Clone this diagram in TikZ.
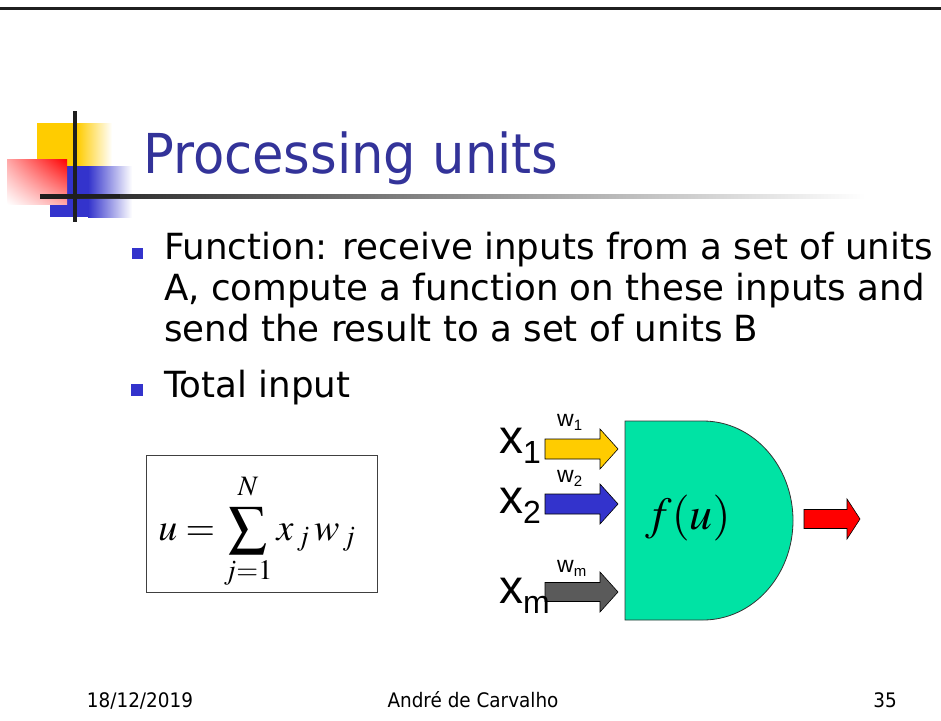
\documentclass[tikz,border=0pt]{standalone}
\usepackage{mathptmx}
\usepackage[no-math]{fontspec}
\usetikzlibrary{shadings}
\newfontfamily\tahtitle{DejaVu Sans}[FakeStretch=0.93]
\newfontfamily\tahbody{DejaVu Sans}[FakeStretch=0.99]
\newfontfamily\tahfoot{DejaVu Sans}[FakeStretch=0.92]
\newfontfamily\ari{Liberation Sans}
\definecolor{titleblue}{HTML}{333399}
\definecolor{bulletblue}{HTML}{3333CC}
\definecolor{logoyellow}{HTML}{FFCC00}
\definecolor{logoblue}{HTML}{3333CC}
\definecolor{neurongreen}{HTML}{00E3A4}
\definecolor{arrowgray}{HTML}{5A5A5A}
\tikzset{
  bodytext/.style={anchor=base west, inner sep=0pt, font=\tahbody\fontsize{36}{40}\selectfont},
  foot/.style={anchor=base, inner sep=0pt, font=\tahfoot\fontsize{20}{22}\selectfont},
  bulletsq/.style={fill=bulletblue, draw=none},
  blockarrow/.style={draw=black, line width=0.6pt, line join=miter},
  inlabel/.style={anchor=base west, inner sep=0pt, font=\ari\fontsize{48}{50}\selectfont},
  wlabel/.style={anchor=base west, inner sep=0pt, font=\ari\fontsize{23}{25}\selectfont},
}
\newcommand{\blockarr}[7]{% x0 x1 x2 yc halfshaft halfhead color
  \fill[#7] (#1,#4-#5) -- (#2,#4-#5) -- (#2,#4-#6) -- (#3,#4) -- (#2,#4+#6) -- (#2,#4+#5) -- (#1,#4+#5) -- cycle;
  \draw[blockarrow] (#1,#4-#5) -- (#2,#4-#5) -- (#2,#4-#6) -- (#3,#4) -- (#2,#4+#6) -- (#2,#4+#5) -- (#1,#4+#5) -- cycle;}
\begin{document}
\begin{tikzpicture}[x=1pt,y=-1pt]
\useasboundingbox (0,0) rectangle (941,720);
\fill[white] (0,0) rectangle (941,720);
% top rule
\fill[black!88] (0,7) rectangle (941,10);
% logo
\fill[logoyellow] (37,123) rectangle (77,167);
\shade[left color=logoyellow, right color=white] (77,123) rectangle (112,167);
\fill[logoblue] (50,166) rectangle (88,217);
\shade[left color=logoblue, right color=white] (88,166) rectangle (132,217);
\shade[upper left=red!35, upper right=red, lower left=white, lower right=red!35] (7,159) rectangle (67,204);
\shade[left color=black!90, right color=white] (40,194) rectangle (865,198);
\fill[black!88] (40,194) rectangle (120,198);
\fill[black!88] (73,111) rectangle (77,222);
% title
\node[anchor=base west, inner sep=0pt, text=titleblue, font=\tahtitle\fontsize{55}{60}\selectfont] (title) at (143,173) {Processing units};
% bullets
\fill[bulletsq] (132,248) rectangle (143,259);
\node[bodytext] (l1) at (164,259) {Function: receive inputs from a set of units};
\node[bodytext] (l2) at (164,300) {A, compute a function on these inputs and};
\node[bodytext] (l3) at (164,341) {send the result to a set of units B};
\fill[bulletsq] (131,384) rectangle (143,396);
\node[bodytext] (l4) at (164,397) {Total input};
% formula
\draw[black!75, line width=0.8pt] (146,455) rectangle (377,592);
\node[anchor=base, inner sep=0pt] (eq) at (257,540) {\fontsize{38}{44}\selectfont$\displaystyle u=\sum_{j=1}^{\raisebox{4pt}{$\scriptstyle N$}} x_{\,j}\, w_{\,j}$};
% neuron
\filldraw[fill=neurongreen, draw=black!80, line width=0.8pt] (625,421) -- (703,421) arc[start angle=-90, end angle=90, x radius=90, y radius=99.5] -- (625,620) -- cycle;
\node[inner sep=0pt] (fu) at (688,518) {\fontsize{46}{50}\selectfont$f(u)$};
% arrows
\blockarr{545}{600}{618}{449}{10}{20}{logoyellow}
\blockarr{545}{600}{618}{504}{10}{20}{logoblue}
\blockarr{545}{600}{618}{592}{9.5}{20}{arrowgray}
\blockarr{804}{847}{860}{519}{9.5}{20}{red}
% labels
\node[inlabel] (x1) at (499,453) {x\raisebox{-0.22em}{\fontsize{32}{34}\selectfont 1}};
\node[inlabel] (x2) at (499,513) {x\raisebox{-0.22em}{\fontsize{32}{34}\selectfont 2}};
\node[inlabel] (xm) at (499,603) {x\raisebox{-0.22em}{\fontsize{32}{34}\selectfont m}};
\node[wlabel] (w1) at (557,426) {w\raisebox{-0.2em}{\fontsize{15}{16}\selectfont 1}};
\node[wlabel] (w2) at (557,482) {w\raisebox{-0.2em}{\fontsize{15}{16}\selectfont 2}};
\node[wlabel] (wm) at (557,572) {w\raisebox{-0.2em}{\fontsize{15}{16}\selectfont m}};
% footer
\node[foot] (date) at (140,707) {18/12/2019};
\node[foot] (author) at (473,707) {André de Carvalho};
\node[foot] (page) at (885,707) {35};
\end{tikzpicture}
\end{document}
